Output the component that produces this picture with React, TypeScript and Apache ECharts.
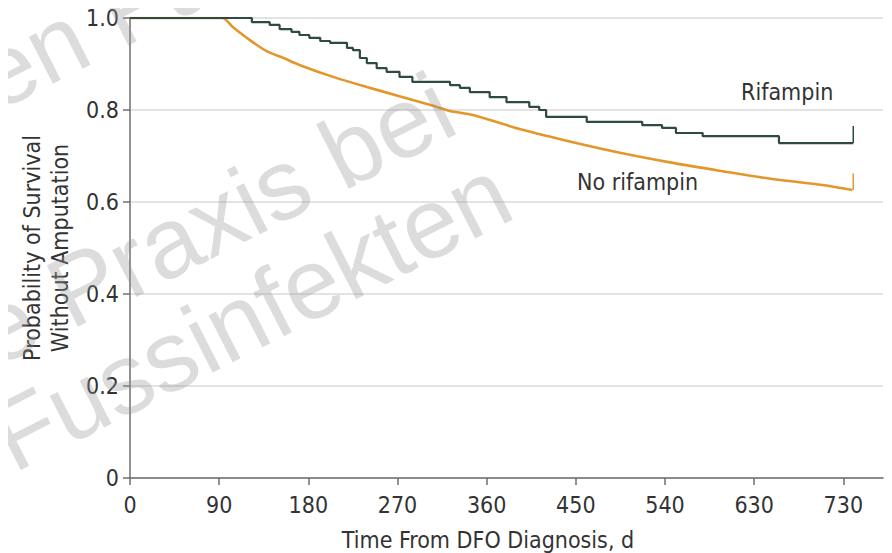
import React, { useEffect, useRef } from "react";
import * as echarts from "echarts";

// Kaplan-Meier estimates (day, probability)
const rifampinCurve: [number, number][] = [
  [0, 1.0], [123, 0.991], [141, 0.985], [151, 0.976], [163, 0.97], [171, 0.963],
  [181, 0.957], [192, 0.95], [202, 0.946], [219, 0.935], [225, 0.93], [232, 0.913],
  [239, 0.902], [249, 0.891], [259, 0.883], [272, 0.872], [285, 0.861], [323, 0.854],
  [333, 0.848], [343, 0.839], [363, 0.828], [380, 0.817], [403, 0.807], [413, 0.8],
  [420, 0.785], [461, 0.774], [517, 0.767], [537, 0.761], [551, 0.75], [578, 0.743],
  [655, 0.728], [730, 0.728],
];
const noRifampinCurve: [number, number][] = [
  [0, 1.0], [93, 1.0], [104, 0.98], [121, 0.952], [138, 0.928], [155, 0.913],
  [171, 0.898], [205, 0.872], [239, 0.85], [272, 0.83], [306, 0.809], [323, 0.798],
  [346, 0.789], [396, 0.757], [447, 0.73], [497, 0.706], [548, 0.685], [598, 0.667],
  [648, 0.65], [699, 0.637], [729, 0.626],
];
const rifampinCensor: [number, number][] = [[730, 0.728], [730, 0.765]];
const noRifampinCensor: [number, number][] = [[730, 0.626], [730, 0.662]];

const xTickValues = [0, 90, 180, 270, 360, 450, 540, 630, 720];
const xTickLabels = ["0", "90", "180", "270", "360", "450", "540", "630", "730"];
const yTickValues = [0, 0.2, 0.4, 0.6, 0.8, 1.0];
const yTickLabels = ["0", "0.2", "0.4", "0.6", "0.8", "1.0"];

const seriesNames = ["Rifampin", "No rifampin"];
const xTitle = "Time From DFO Diagnosis, d";
const yTitle = "Probability of Survival\nWithout Amputation";
const watermarkLines = ["Wissen Fa", "die Praxis bei", "von Fussinfekten"];

const FONT = "'DejaVu Sans Condensed', 'DejaVu Sans', sans-serif";
const TEXT = "#333333";
const AXIS = "#6e6e6e";
const GREEN = "#2f4a42";
const ORANGE = "#e3962a";

export default function App() {
  const ref = useRef<HTMLDivElement>(null);
  useEffect(() => {
    if (!ref.current) return;
    const chart = echarts.init(ref.current, undefined, { renderer: "svg" });
    const rot = (27 * Math.PI) / 180;
    const wmStyle = {
      fill: "rgba(150,150,150,0.33)",
      font: "100px 'Liberation Sans', Arial, sans-serif",
      textAlign: "left",
      textVerticalAlign: "bottom",
    };
    chart.setOption({
      animation: false,
      backgroundColor: "#ffffff",
      textStyle: { fontFamily: FONT },
      grid: { left: 130, right: 9, top: 18, bottom: 75 },
      xAxis: {
        type: "value",
        min: 0,
        max: 760,
        interval: 90,
        splitLine: { show: false },
        axisLine: { show: true, lineStyle: { color: AXIS, width: 1.5 } },
        axisTick: {
          show: true,
          length: 7,
          customValues: xTickValues,
          lineStyle: { color: AXIS, width: 1.5 },
        },
        axisLabel: {
          customValues: xTickValues,
          margin: 15,
          fontSize: 23,
          color: TEXT,
          fontFamily: FONT,
          formatter: (v: number) => {
            const i = xTickValues.indexOf(v);
            return i >= 0 ? xTickLabels[i] : "";
          },
        },
      },
      yAxis: {
        type: "value",
        min: 0,
        max: 1,
        interval: 0.2,
        axisLine: { show: true, lineStyle: { color: AXIS, width: 1.5 } },
        axisTick: { show: true, length: 7, lineStyle: { color: AXIS, width: 1.5 } },
        splitLine: { show: true, lineStyle: { color: "#dadada", width: 1.5 } },
        axisLabel: {
          margin: 11,
          fontSize: 23,
          color: TEXT,
          fontFamily: FONT,
          formatter: (v: number) => {
            const i = yTickValues.findIndex((t) => Math.abs(t - v) < 1e-6);
            return i >= 0 ? yTickLabels[i] : "";
          },
        },
      },
      series: [
        {
          name: seriesNames[0],
          type: "line",
          step: "end",
          data: rifampinCurve,
          showSymbol: false,
          lineStyle: { color: GREEN, width: 2.2 },
          z: 3,
        },
        {
          name: seriesNames[1],
          type: "line",
          smooth: 0.3,
          data: noRifampinCurve,
          showSymbol: false,
          lineStyle: { color: ORANGE, width: 2.6 },
          z: 2,
        },
        {
          type: "line",
          data: rifampinCensor,
          showSymbol: false,
          lineStyle: { color: GREEN, width: 1.5 },
          z: 3,
        },
        {
          type: "line",
          data: noRifampinCensor,
          showSymbol: false,
          lineStyle: { color: ORANGE, width: 1.5 },
          z: 2,
        },
      ],
      graphic: [
        {
          type: "text",
          left: 741,
          top: 80,
          style: { text: seriesNames[0], font: `23px ${FONT}`, fill: TEXT },
        },
        {
          type: "text",
          left: 577,
          top: 170,
          style: { text: seriesNames[1], font: `23px ${FONT}`, fill: TEXT },
        },
        {
          type: "text",
          x: 488,
          y: 540,
          style: {
            text: xTitle,
            font: `23px ${FONT}`,
            fill: TEXT,
            textAlign: "center",
            textVerticalAlign: "middle",
          },
        },
        {
          type: "text",
          x: 46,
          y: 248,
          rotation: Math.PI / 2,
          style: {
            text: yTitle,
            font: `23px ${FONT}`,
            lineHeight: 28,
            fill: TEXT,
            textAlign: "center",
            textVerticalAlign: "middle",
          },
        },
        {
          type: "text",
          x: -189,
          y: 224,
          rotation: rot,
          z: 100,
          silent: true,
          style: { ...wmStyle, text: watermarkLines[0] },
        },
        {
          type: "text",
          x: -66,
          y: 417,
          rotation: rot,
          z: 100,
          silent: true,
          style: { ...wmStyle, text: watermarkLines[1] },
        },
        {
          type: "text",
          x: -148,
          y: 573,
          rotation: rot,
          z: 100,
          silent: true,
          style: { ...wmStyle, text: watermarkLines[2] },
        },
      ],
    });
    return () => chart.dispose();
  }, []);
  return <div ref={ref} style={{ width: 892, height: 553, marginLeft: -8, marginTop: -8 }} />;
}
